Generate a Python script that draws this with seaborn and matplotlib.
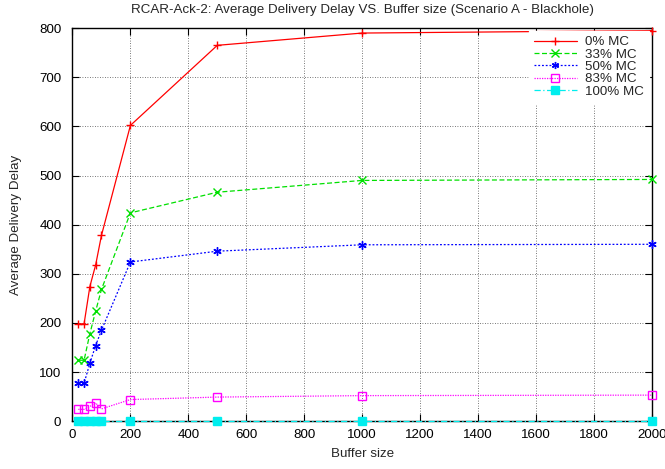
import matplotlib
matplotlib.use("Agg")
import matplotlib.pyplot as plt
import seaborn as sns
import pandas as pd

# Buffer sizes tested
buffer_size = [20, 40, 60, 80, 100, 200, 500, 1000, 2000]

# Average delivery delay per malicious-node ratio
delay_0 = [198, 198, 274, 318, 378, 602, 765, 790, 795]
delay_33 = [124, 124, 178, 224, 268, 424, 466, 490, 492]
delay_50 = [77, 77, 118, 154, 185, 324, 346, 359, 360]
delay_83 = [24, 24, 30, 37, 25, 44, 49, 52, 53]
delay_100 = [0, 0, 0, 0, 0, 0, 0, 0, 0]

series_labels = ["0% MC", "33% MC", "50% MC", "83% MC", "100% MC"]
series_values = [delay_0, delay_33, delay_50, delay_83, delay_100]

colors = ["#ff0000", "#00e000", "#0000ff", "#ff00ff", "#00eeee"]
markers = ["+", "x", (6, 2, 0), "s", "s"]
linestyles = ["-", (0, (4, 2)), (0, (1.5, 1.5)), (0, (1, 1)), (0, (5, 2, 1, 2))]
fills = ["full", "full", "full", "none", "full"]

sns.set_style("ticks")
plt.rcParams["font.family"] = ["Liberation Sans", "DejaVu Sans"]

FS = 9.6

fig = plt.figure(figsize=(6.65, 4.69), dpi=100)
ax = fig.add_axes([0.109, 0.102, 0.871, 0.838])

for label, vals, c, m, ls, fs in zip(series_labels, series_values, colors,
                                      markers, linestyles, fills):
    df = pd.DataFrame({"buf": buffer_size, "delay": vals})
    sns.lineplot(data=df, x="buf", y="delay", ax=ax, color=c, marker=m,
                 linestyle=ls, linewidth=0.9, markersize=6, fillstyle=fs,
                 markeredgecolor=c, markeredgewidth=1.0, label=label,
                 estimator=None, sort=False, clip_on=False, zorder=3)

ax.set_xlim(0, 2000)
ax.set_ylim(0, 800)
ax.set_xticks(range(0, 2001, 200))
ax.set_yticks(range(0, 801, 100))
ax.grid(True, color="black", linestyle=(0, (1, 2)), linewidth=0.6, alpha=0.7)
ax.tick_params(direction="in", length=5, width=0.8, top=True, right=True,
               labelsize=FS, colors="black")
ax.tick_params(axis="y", pad=8)
ax.tick_params(axis="x", pad=6)
for sp in ax.spines.values():
    sp.set_linewidth(1.0)
    sp.set_color("black")

ax.set_title("RCAR-Ack-2: Average Delivery Delay VS. Buffer size (Scenario A - Blackhole)",
             fontsize=FS, pad=11)
ax.set_xlabel("Buffer size", fontsize=FS, labelpad=5)
ax.set_ylabel("Average Delivery Delay", fontsize=FS, labelpad=12)

leg = ax.legend(loc="upper right", frameon=True, fontsize=FS, handlelength=3.2,
                borderaxespad=0.2, labelspacing=0.0, handletextpad=0.6,
                fancybox=False, framealpha=1, markerscale=0.85)
leg.get_frame().set_edgecolor("white")

fig.savefig("out.png", dpi=100)
